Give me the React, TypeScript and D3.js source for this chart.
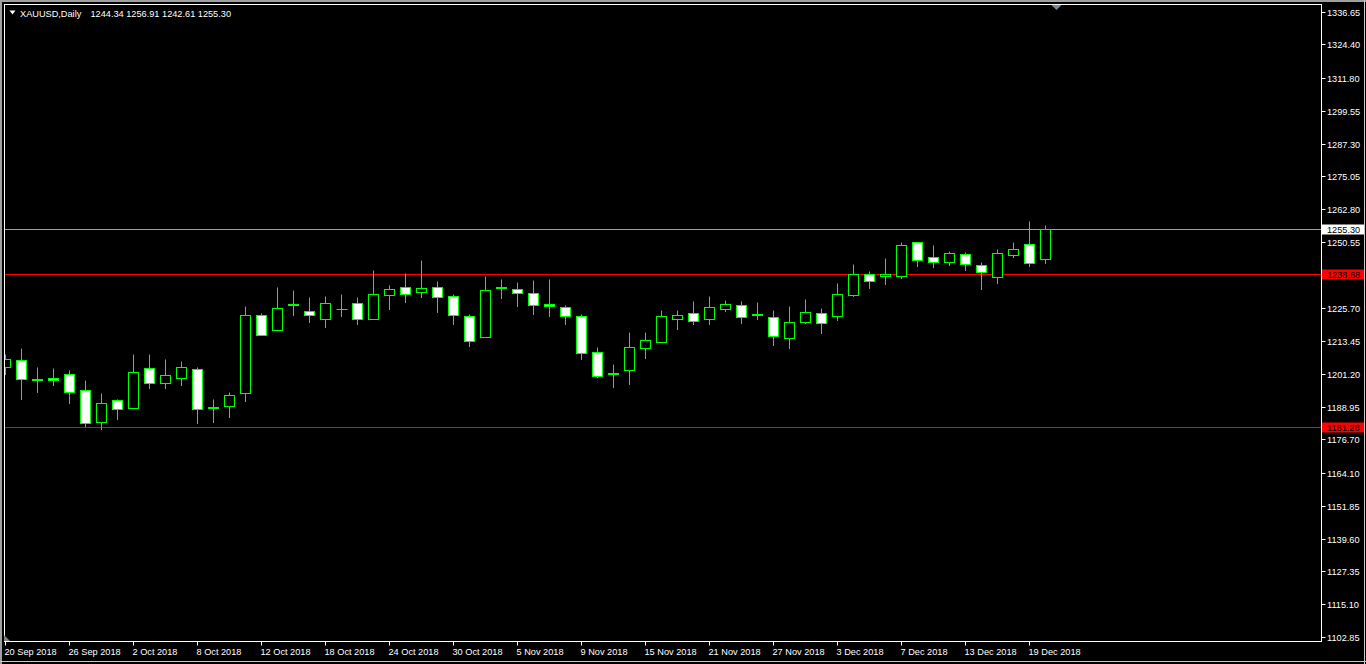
import React from 'react';
import * as d3 from 'd3';

// ---------- data ----------
const SYMBOL = 'XAUUSD,Daily';

const DATES = [
  '20 Sep 2018', '21 Sep 2018', '24 Sep 2018', '25 Sep 2018', '26 Sep 2018', '27 Sep 2018', '28 Sep 2018',
  '1 Oct 2018', '2 Oct 2018', '3 Oct 2018', '4 Oct 2018', '5 Oct 2018', '8 Oct 2018', '9 Oct 2018',
  '10 Oct 2018', '11 Oct 2018', '12 Oct 2018', '15 Oct 2018', '16 Oct 2018', '17 Oct 2018', '18 Oct 2018',
  '19 Oct 2018', '22 Oct 2018', '23 Oct 2018', '24 Oct 2018', '25 Oct 2018', '26 Oct 2018', '29 Oct 2018',
  '30 Oct 2018', '31 Oct 2018', '1 Nov 2018', '2 Nov 2018', '5 Nov 2018', '6 Nov 2018', '7 Nov 2018',
  '8 Nov 2018', '9 Nov 2018', '12 Nov 2018', '13 Nov 2018', '14 Nov 2018', '15 Nov 2018', '16 Nov 2018',
  '19 Nov 2018', '20 Nov 2018', '21 Nov 2018', '22 Nov 2018', '23 Nov 2018', '26 Nov 2018', '27 Nov 2018',
  '28 Nov 2018', '29 Nov 2018', '30 Nov 2018', '3 Dec 2018', '4 Dec 2018', '5 Dec 2018', '6 Dec 2018',
  '7 Dec 2018', '10 Dec 2018', '11 Dec 2018', '12 Dec 2018', '13 Dec 2018', '14 Dec 2018', '17 Dec 2018',
  '18 Dec 2018', '19 Dec 2018', '20 Dec 2018',
];

const OPEN = [
  1203.80, 1206.43, 1198.90, 1199.85, 1201.08, 1195.10, 1183.39, 1191.62, 1188.63, 1203.59,
  1197.98, 1199.85, 1203.22, 1188.50, 1189.38, 1193.98, 1223.15, 1217.80, 1226.80, 1224.91,
  1221.91, 1225.60, 1227.90, 1221.91, 1230.89, 1233.73, 1232.01, 1233.88, 1230.52, 1223.03,
  1215.18, 1233.40, 1233.13, 1231.64, 1227.52, 1226.40, 1223.03, 1209.57, 1201.30, 1202.84,
  1211.07, 1213.31, 1221.91, 1224.16, 1221.91, 1225.65, 1227.15, 1223.40, 1222.66, 1214.81,
  1220.79, 1224.16, 1222.89, 1230.74, 1238.74, 1238.00, 1237.99, 1250.71, 1245.10, 1243.23,
  1246.22, 1242.11, 1237.62, 1245.85, 1249.96, 1244.34,
];
const HIGH = [
  1208.57, 1211.07, 1203.96, 1203.33, 1202.58, 1198.84, 1193.98, 1191.99, 1208.56, 1208.56,
  1206.69, 1205.95, 1203.96, 1191.99, 1194.62, 1226.51, 1223.90, 1233.62, 1232.50, 1229.88,
  1230.25, 1231.00, 1229.88, 1239.98, 1234.37, 1238.85, 1243.72, 1235.86, 1231.00, 1223.52,
  1237.73, 1236.61, 1235.49, 1236.24, 1236.61, 1227.15, 1223.52, 1211.44, 1205.08, 1216.79,
  1216.79, 1225.28, 1225.28, 1228.65, 1230.25, 1229.02, 1228.65, 1228.27, 1225.28, 1226.78,
  1229.13, 1225.77, 1235.12, 1242.22, 1239.60, 1244.46, 1250.45, 1250.71, 1249.59, 1247.35,
  1246.97, 1243.23, 1248.09, 1250.71, 1258.30, 1256.91,
];
const LOW = [
  1201.09, 1191.74, 1194.46, 1196.97, 1190.24, 1181.75, 1180.78, 1184.52, 1188.50, 1196.11,
  1195.96, 1196.97, 1183.02, 1183.24, 1185.12, 1191.10, 1215.60, 1217.70, 1223.26, 1220.64,
  1218.77, 1222.89, 1219.89, 1221.85, 1225.65, 1228.12, 1229.99, 1224.38, 1220.04, 1211.67,
  1215.10, 1229.62, 1226.63, 1223.64, 1222.89, 1219.89, 1206.95, 1200.07, 1196.33, 1197.45,
  1207.18, 1213.20, 1218.02, 1219.89, 1220.04, 1224.91, 1220.27, 1221.76, 1212.04, 1210.92,
  1220.27, 1216.53, 1221.39, 1230.37, 1233.36, 1234.85, 1237.10, 1241.59, 1241.21, 1241.96,
  1240.09, 1233.13, 1235.38, 1245.10, 1241.74, 1242.61,
];
const CLOSE = [
  1206.69, 1199.48, 1199.30, 1198.95, 1194.46, 1183.02, 1190.50, 1188.26, 1202.09, 1197.98,
  1200.71, 1203.96, 1188.26, 1188.80, 1193.49, 1223.15, 1215.78, 1226.03, 1227.20, 1223.41,
  1227.90, 1225.65, 1221.91, 1231.26, 1233.13, 1231.26, 1233.51, 1230.14, 1223.41, 1213.69,
  1232.76, 1233.80, 1231.64, 1227.15, 1226.78, 1223.03, 1209.20, 1200.60, 1201.40, 1211.44,
  1214.06, 1223.03, 1223.41, 1221.17, 1226.40, 1227.52, 1222.66, 1223.80, 1215.56, 1220.79,
  1224.53, 1220.42, 1231.26, 1238.74, 1236.13, 1238.40, 1249.59, 1243.98, 1243.23, 1246.60,
  1242.48, 1239.49, 1246.60, 1248.09, 1242.86, 1255.30,
];

const PRICE_TICKS = [
  1336.65, 1324.40, 1311.80, 1299.55, 1287.30, 1275.05, 1262.80, 1250.55, 1238.30, 1225.70,
  1213.45, 1201.20, 1188.95, 1176.70, 1164.10, 1151.85, 1139.60, 1127.35, 1115.10, 1102.85,
];
const TIME_TICK_EVERY = 4;
const BID_PRICE = 1255.30;
const RED_LEVELS = [1238.68, 1181.28];

// ---------- layout ----------
const W = 1366;
const H = 664;
const PLOT_LEFT = 4.5;
const PLOT_TOP = 4.5;
const PLOT_RIGHT = 1321.5;
const PLOT_BOTTOM = 641.5;
const PRICE_AT_TOP = 1339.53;
const PRICE_AT_BOTTOM = 1101.35;
const BAR_STEP = 16;
const FIRST_BAR_X = 5.5;
const HALF_BODY = 5;
const FONT = '"Liberation Sans", Arial, sans-serif';
const FS = 9.2;
const GREEN = '#00ff00';

const snap = (v: number) => Math.floor(v) + 0.5;

export default function App() {
  const y = d3.scaleLinear().domain([PRICE_AT_BOTTOM, PRICE_AT_TOP]).range([PLOT_BOTTOM, PLOT_TOP]);
  const x = d3
    .scaleLinear()
    .domain([0, 1])
    .range([FIRST_BAR_X, FIRST_BAR_X + BAR_STEP]);

  const bars = DATES.map((d, i) => ({ d, i, o: OPEN[i], h: HIGH[i], l: LOW[i], c: CLOSE[i] }));
  const last = bars[bars.length - 1];
  const fmt = d3.format('.2f');

  const timeTicks = bars.filter((b) => b.i % TIME_TICK_EVERY === 0);

  return (
    <svg
      width={W}
      height={H}
      style={{ position: 'absolute', left: 0, top: 0, display: 'block', background: '#000' }}
      fontFamily={FONT}
    >
      <defs>
        <clipPath id="plotClip">
          <rect x={PLOT_LEFT + 0.5} y={PLOT_TOP + 0.5} width={PLOT_RIGHT - PLOT_LEFT - 1} height={PLOT_BOTTOM - PLOT_TOP - 1} />
        </clipPath>
      </defs>
      <rect x={0} y={0} width={W} height={H} fill="#000" />

      {/* window frame */}
      <rect x={0} y={0} width={W} height={2} fill="#a0a0a0" />
      <rect x={0} y={0} width={2} height={H} fill="#a0a0a0" />
      <line x1={1364.5} y1={0} x2={1364.5} y2={H} stroke="#c8c8c8" />
      <line x1={0} y1={661.5} x2={W} y2={661.5} stroke="#c8c8c8" />

      {/* level lines */}
      <g clipPath="url(#plotClip)">
        <line x1={PLOT_LEFT} x2={PLOT_RIGHT} y1={snap(y(BID_PRICE))} y2={snap(y(BID_PRICE))} stroke="#a0a0a0" />
        {RED_LEVELS.map((p) => (
          <line key={p} x1={PLOT_LEFT} x2={PLOT_RIGHT} y1={snap(y(p))} y2={snap(y(p))} stroke="#ff0000" />
        ))}
      </g>

      {/* candles */}
      <g clipPath="url(#plotClip)">
        {bars.map((b) => {
          const cx = x(b.i);
          const top = snap(y(Math.max(b.o, b.c)));
          const bot = snap(y(Math.min(b.o, b.c)));
          const bull = b.c >= b.o;
          return (
            <g key={b.i}>
              <line x1={cx} x2={cx} y1={snap(y(b.h))} y2={snap(y(b.l)) + 0.5} stroke={GREEN} />
              {bot - top < 1 ? (
                <line x1={cx - HALF_BODY} x2={cx + HALF_BODY + 1} y1={top} y2={top} stroke={GREEN} />
              ) : (
                <rect
                  x={cx - HALF_BODY}
                  y={top}
                  width={HALF_BODY * 2}
                  height={bot - top}
                  fill={bull ? '#000' : '#fff'}
                  stroke={GREEN}
                />
              )}
            </g>
          );
        })}
      </g>

      {/* plot border */}
      <rect
        x={PLOT_LEFT}
        y={PLOT_TOP}
        width={PLOT_RIGHT - PLOT_LEFT}
        height={PLOT_BOTTOM - PLOT_TOP}
        fill="none"
        stroke="#ffffff"
      />

      {/* chart shift marker */}
      <polygon points="1051.5,5 1061.5,5 1056.5,10" fill="#7b8896" />
      <polygon points="4,635 4,641 10,641" fill="#808080" />

      {/* header */}
      <polygon points="9.5,10.5 15.5,10.5 12.5,14.5" fill="#fff" />
      <text x={20} y={16.5} fontSize={FS} fill="#fff">
        {SYMBOL}
      </text>
      <text x={90.5} y={16.5} fontSize={FS} fill="#fff">
        {[last.o, last.h, last.l, last.c].map(fmt).join(' ')}
      </text>

      {/* price axis */}
      {PRICE_TICKS.map((p) => {
        const yy = snap(y(p));
        return (
          <g key={p}>
            <line x1={PLOT_RIGHT} x2={PLOT_RIGHT + 4} y1={yy} y2={yy} stroke="#fff" />
            <text x={1327} y={yy + 3.5} fontSize={FS} fill="#fff">
              {fmt(p)}
            </text>
          </g>
        );
      })}

      {/* level labels */}
      {RED_LEVELS.map((p) => {
        const yy = snap(y(p));
        return (
          <g key={p}>
            <rect x={1322} y={yy - 5} width={42} height={10} fill="#ff0000" />
            <text x={1327} y={yy + 3.5} fontSize={FS} fill="#000">
              {fmt(p)}
            </text>
          </g>
        );
      })}
      {(() => {
        const yy = snap(y(BID_PRICE));
        return (
          <g>
            <rect x={1322} y={yy - 5} width={42} height={10} fill="#ffffff" />
            <text x={1327} y={yy + 3.5} fontSize={FS} fill="#000">
              {fmt(BID_PRICE)}
            </text>
          </g>
        );
      })()}

      {/* time axis */}
      {timeTicks.map((b) => {
        const cx = x(b.i);
        return (
          <g key={b.i}>
            <line x1={cx} x2={cx} y1={PLOT_BOTTOM} y2={PLOT_BOTTOM + 4} stroke="#fff" />
            <text x={cx - 1} y={655} fontSize={FS} fill="#fff">
              {b.d}
            </text>
          </g>
        );
      })}
    </svg>
  );
}
